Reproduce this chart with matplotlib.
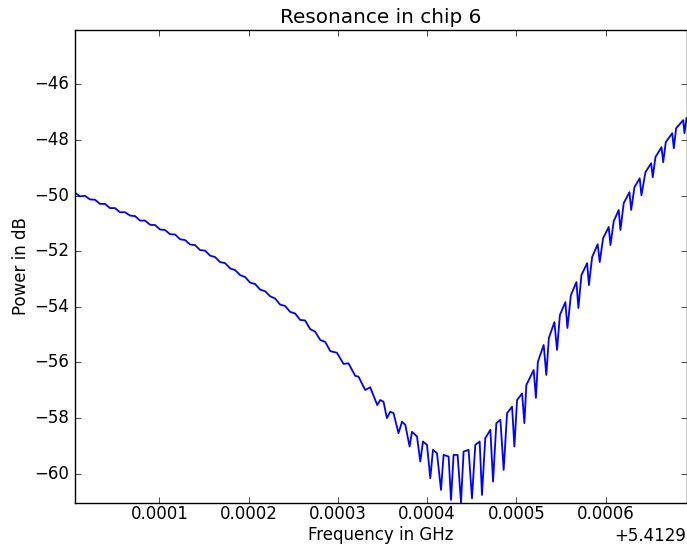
import numpy as np
import matplotlib
matplotlib.use("Agg")
import matplotlib.pyplot as plt
from matplotlib.ticker import ScalarFormatter

plt.style.use("classic")

# frequency above 5.4129 GHz, in kHz
freq_khz = [
    5.5, 11.1, 16.7, 22.3, 27.9, 33.5, 39.1, 44.7, 50.3, 55.9,
    61.5, 67.2, 72.8, 78.4, 84.0, 89.6, 95.2, 100.8, 106.4, 112.0,
    117.6, 123.2, 128.8, 134.4, 140.0, 145.6, 151.2, 156.8, 162.4, 168.0,
    173.7, 179.3, 184.9, 190.5, 196.1, 201.7, 207.3, 212.9, 218.5, 224.1,
    229.7, 235.3, 240.9, 246.5, 252.1, 257.7, 263.3, 268.9, 274.5, 280.2,
    285.8, 291.4,
    298.9, 306.3, 311.9, 319.4, 323.1, 330.6, 336.2, 344.1, 347.4, 351.1,
    354.9, 358.6, 362.3, 367.9, 371.8, 375.5, 380.3, 383.0, 388.6, 392.3,
    395.3, 399.8, 403.5, 406.5, 411.0, 415.5, 418.4, 424.0, 426.7, 429.6,
    434.1, 437.9, 440.8, 446.4, 450.2, 453.9, 458.8, 461.4, 465.1, 470.8,
    473.8, 477.5, 482.0, 485.7, 489.5, 495.1, 497.7, 500.7, 506.3, 508.9,
    511.1, 519.3, 521.8, 524.0, 530.5, 533.5, 536.3, 542.5, 545.5, 548.7,
    554.8, 557.1, 561.0, 567.2, 569.4, 572.8, 579.2, 581.2, 584.8, 591.0,
    593.3, 597.1, 603.4, 605.3, 609.0, 614.6, 616.5, 620.2, 626.6, 628.5,
    632.2, 638.1, 640.0, 644.5, 650.9, 652.7, 655.7, 662.5, 664.4, 667.3,
    674.5, 676.3, 678.9, 686.8, 688.2, 690.5,
]

# measured power in dB
power_db = [
    -49.90, -50.03, -50.01, -50.14, -50.15, -50.30, -50.30, -50.45, -50.45, -50.60,
    -50.60, -50.72, -50.74, -50.90, -50.90, -51.05, -51.06, -51.22, -51.24, -51.39,
    -51.40, -51.57, -51.60, -51.76, -51.78, -51.96, -51.98, -52.16, -52.21, -52.39,
    -52.43, -52.62, -52.68, -52.86, -52.93, -53.13, -53.18, -53.38, -53.44, -53.62,
    -53.70, -53.92, -53.97, -54.18, -54.24, -54.47, -54.49, -54.80, -54.89, -55.19,
    -55.26, -55.59,
    -55.65, -56.05, -56.03, -56.48, -56.51, -56.99, -56.89, -57.53, -57.35, -57.41,
    -58.00, -57.77, -57.82, -58.54, -58.13, -58.24, -59.02, -58.49, -58.66, -59.56,
    -58.84, -58.96, -60.16, -59.14, -59.26, -60.58, -59.32, -59.38, -60.94, -59.32,
    -59.32, -61.03, -59.20, -59.14, -60.88, -58.96, -58.84, -60.76, -58.72, -58.42,
    -60.28, -58.18, -58.06, -59.86, -57.82, -57.59, -59.02, -57.35, -57.11, -58.18,
    -56.81, -56.27, -57.27, -55.98, -55.37, -56.45, -55.12, -54.55, -55.55, -54.29,
    -53.83, -54.76, -53.58, -53.11, -54.04, -52.86, -52.43, -53.22, -52.21, -51.75,
    -52.39, -51.53, -51.13, -51.78, -50.92, -50.52, -51.24, -50.27, -49.88, -50.52,
    -49.70, -49.38, -49.99, -49.16, -48.84, -49.34, -48.62, -48.26, -48.80, -48.08,
    -47.76, -48.30, -47.58, -47.29, -47.76, -47.22,
]

f0 = 5.4129
freq_ghz = f0 + np.array(freq_khz) * 1e-6
power = np.array(power_db)

fig = plt.figure(figsize=(6.87, 5.48), dpi=100, facecolor="white")
ax = fig.add_axes([75 / 687, 45 / 548, 611.5 / 687, 473 / 548])

ax.plot(freq_ghz, power, color="b", linewidth=1.3)
ax.set_xlim(freq_ghz.min(), freq_ghz.max())
ax.set_ylim(power.min() - 0.02, -44.05)
ax.set_xticks(f0 + np.array([1, 2, 3, 4, 5, 6]) * 1e-4)
ax.set_yticks([-60, -58, -56, -54, -52, -50, -48, -46])
ax.tick_params(axis="x", pad=1.5)

fmt = ScalarFormatter(useOffset=f0)
ax.xaxis.set_major_formatter(fmt)

ax.set_title("Resonance in chip 6")
ax.set_xlabel("Frequency in GHz", labelpad=2)
ax.set_ylabel("Power in dB", labelpad=3)

fig.savefig("out.png", dpi=100, facecolor="white")
